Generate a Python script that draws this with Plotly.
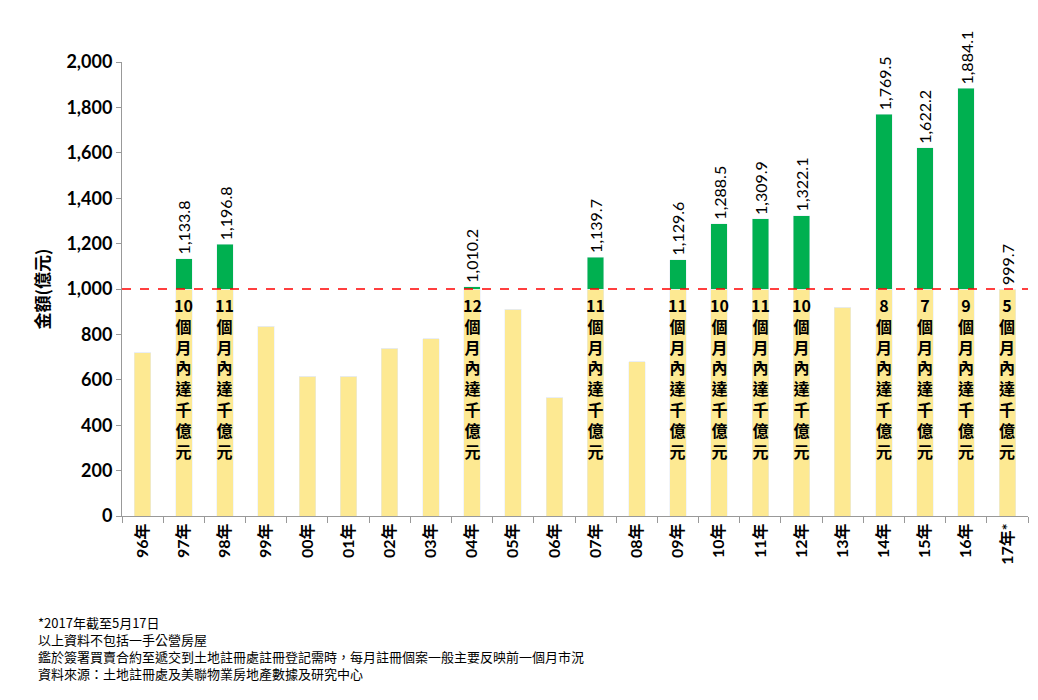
import plotly.graph_objects as go

years = ["96年", "97年", "98年", "99年", "00年", "01年", "02年", "03年", "04年", "05年", "06年",
         "07年", "08年", "09年", "10年", "11年", "12年", "13年", "14年", "15年", "16年", "17年*"]
totals = [720, 1133.8, 1196.8, 835, 615, 615, 740, 780, 1010.2, 910, 520,
          1139.7, 680, 1129.6, 1288.5, 1309.9, 1322.1, 920, 1769.5, 1622.2, 1884.1, 999.7]
months = [None, 10, 11, None, None, None, None, None, 12, None, None,
          11, None, 11, 10, 11, 10, None, 8, 7, 9, 5]

base = [min(v, 1000) for v in totals]
extra = [max(v - 1000, 0) for v in totals]

fig = go.Figure()
fig.add_bar(x=years, y=base, marker_color="#fde992", width=0.4)
fig.add_bar(x=years, y=extra, marker_color="#00b050", width=0.4)

for yr, v, m in zip(years, totals, months):
    if m is None:
        continue
    fig.add_annotation(x=yr, y=v, text=f"{v:,.1f}", textangle=-90, showarrow=False,
                       yanchor="bottom", yshift=2, font=dict(size=16, color="black", family="Lato"))
    fig.add_annotation(x=yr, y=990, yanchor="top", showarrow=False,
                       text="<b>" + str(m) + "<br>" + "<br>".join("個月內達千億元") + "</b>",
                       font=dict(size=16, color="black", family="Noto Sans CJK TC"))

fig.add_shape(type="line", xref="paper", x0=0, x1=1, y0=1000, y1=1000,
              line=dict(color="red", dash="dash", width=1.5))

notes = ("*2017年截至5月17日<br>以上資料不包括一手公營房屋<br>"
         "鑑於簽署買賣合約至遞交到土地註冊處註冊登記需時，每月註冊個案一般主要反映前一個月市況<br>"
         "資料來源：土地註冊處及美聯物業房地產數據及研究中心")
fig.add_annotation(xref="paper", yref="paper", x=-0.095, y=-0.21, xanchor="left", yanchor="top",
                   align="left", showarrow=False, text=notes,
                   font=dict(size=13, color="black", family="Noto Sans CJK TC"))

fig.update_layout(
    barmode="stack", showlegend=False, plot_bgcolor="white", paper_bgcolor="white",
    width=1038, height=700, margin=dict(l=114, r=18, t=54, b=192),
    font=dict(family="Lato, Noto Sans CJK TC", color="black"),
)
fig.update_xaxes(tickangle=-90, tickfont=dict(size=16, family="Lato, Noto Sans CJK TC", weight="bold"),
                 showline=True, linecolor="#999", ticks="outside", tickson="boundaries",
                 tickcolor="#999", ticklen=6)
fig.update_yaxes(range=[0, 2000], dtick=200, tickformat=",", showgrid=False,
                 showline=True, linecolor="#999", ticks="outside", tickcolor="#999",
                 tickfont=dict(size=18, family="Lato", weight="bold"),
                 title=dict(text="金額(億元)", standoff=12,
                            font=dict(size=17, family="Noto Sans CJK TC", weight="bold")))

fig.write_html("out.html")
